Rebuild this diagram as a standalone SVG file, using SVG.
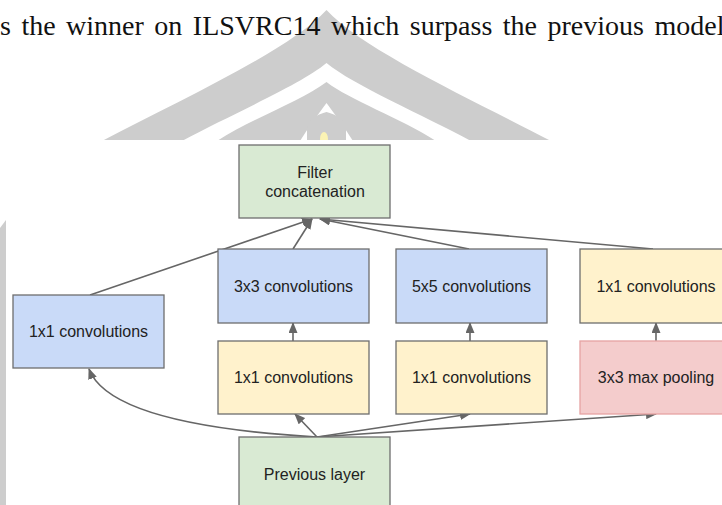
<svg xmlns="http://www.w3.org/2000/svg" width="722" height="505" viewBox="0 0 722 505">
<style>
.wm{fill:#cdcdcd}
.box{stroke:#6e6e6e;stroke-width:1.3}
.blue{fill:#c9daf8}
.green{fill:#d9ead3}
.yellow{fill:#fff2cc}
.pink{fill:#f4cccc;stroke:#e6a3a3}
.lbl{font-family:"Liberation Sans",Arial,sans-serif;font-size:16px;fill:#222;text-anchor:middle}
.edge{fill:none;stroke:#666;stroke-width:1.6}
</style>
<defs>
<marker id="ah" markerUnits="userSpaceOnUse" markerWidth="11" markerHeight="9" refX="10" refY="4.5" orient="auto">
<path d="M0,0 L11,4.5 L0,9 Z" fill="#666"/>
</marker>
</defs>
<rect x="0" y="0" width="722" height="505" fill="#fff"/>
<g id="watermark">
<path class="wm" d="M102,141 C180,100 290,50 326.5,10 C363,50 473,100 551,141 Z"/>
<path fill="#fff" d="M182,141 C230,115 300,85 326.5,63 C353,85 423,115 471,141 L436,141 C400,118 350,100 326.5,82 C303,100 253,118 217,141 Z"/>
<path fill="#fff" d="M300,141 C310,125 320,112 326.5,103 C333,112 343,125 353,141 Z"/>
<path class="wm" d="M307,141 L307,128 C307,120 318,114 326.5,112 C335,114 346,120 346,128 L346,141 Z"/>
<ellipse cx="324" cy="139" rx="4" ry="7" fill="#fbf3b4"/>
<polygon class="wm" points="0,228 6,220 6,505 0,505"/>
</g>
<text x="0" y="35" font-family="'Liberation Serif','Times New Roman',serif" font-size="28" fill="#111" word-spacing="3.5">s the winner on ILSVRC14 which surpass the previous model</text>
<rect x="6" y="140" width="716" height="365" fill="#fff"/>
<g id="connectors">
<path class="edge" d="M90,295 L312,219" marker-end="url(#ah)"/>
<path class="edge" d="M293,249 L312,219" marker-end="url(#ah)"/>
<path class="edge" d="M469,249 L320,219" marker-end="url(#ah)"/>
<path class="edge" d="M653,249 L320,219" marker-end="url(#ah)"/>
<path class="edge" d="M317,437 Q110,425 89,369" marker-end="url(#ah)"/>
<path class="edge" d="M317,437 L295,414" marker-end="url(#ah)"/>
<path class="edge" d="M317,437 L470,414" marker-end="url(#ah)"/>
<path class="edge" d="M317,437 L656,414" marker-end="url(#ah)"/>
<path class="edge" d="M293,341 L293,323" marker-end="url(#ah)"/>
<path class="edge" d="M470,341 L470,323" marker-end="url(#ah)"/>
<path class="edge" d="M656,341 L656,323" marker-end="url(#ah)"/>
</g>
<g id="filter-concat">
<rect class="box green" x="239" y="145" width="151" height="73"/>
<text class="lbl" x="315" y="178">Filter</text>
<text class="lbl" x="315" y="197">concatenation</text>
</g>
<g id="conv1x1-a">
<rect class="box blue" x="13" y="295" width="151" height="73"/>
<text class="lbl" x="88.5" y="337">1x1 convolutions</text>
</g>
<g id="conv3x3">
<rect class="box blue" x="218" y="249" width="151" height="74"/>
<text class="lbl" x="293.5" y="292">3x3 convolutions</text>
</g>
<g id="conv5x5">
<rect class="box blue" x="396" y="249" width="151" height="74"/>
<text class="lbl" x="471.5" y="292">5x5 convolutions</text>
</g>
<g id="conv1x1-d">
<rect class="box yellow" x="580" y="249" width="152" height="74"/>
<text class="lbl" x="656" y="292">1x1 convolutions</text>
</g>
<g id="conv1x1-b">
<rect class="box yellow" x="218" y="341" width="151" height="73"/>
<text class="lbl" x="293.5" y="383">1x1 convolutions</text>
</g>
<g id="conv1x1-c">
<rect class="box yellow" x="396" y="341" width="151" height="73"/>
<text class="lbl" x="471.5" y="383">1x1 convolutions</text>
</g>
<g id="maxpool">
<rect class="box pink" x="580" y="341" width="152" height="73"/>
<text class="lbl" x="656" y="383">3x3 max pooling</text>
</g>
<g id="previous-layer">
<rect class="box green" x="239" y="437" width="151" height="80"/>
<text class="lbl" x="314.5" y="480">Previous layer</text>
</g>
</svg>
